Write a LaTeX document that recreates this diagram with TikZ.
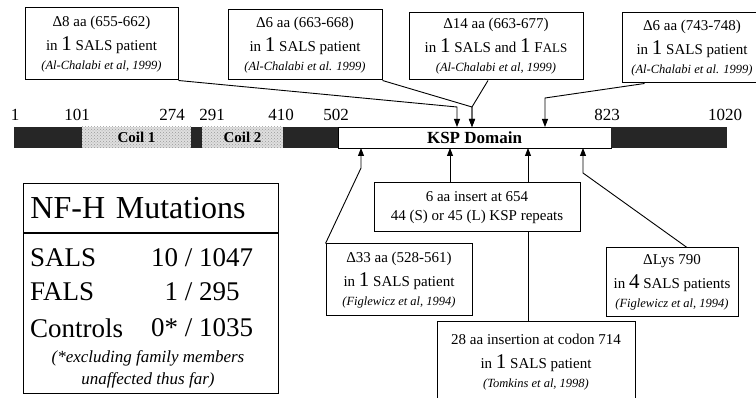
\documentclass[tikz,border=0pt]{standalone}
\usepackage{fontspec}
\setmainfont{Liberation Serif}
\usepackage{tikz}
\usetikzlibrary{positioning,arrows.meta,patterns,backgrounds}
\newcommand{\bignum}[1]{{\fontsize{21}{18}\selectfont #1}}
\newcommand{\reffont}{\fontsize{12.5}{15}\selectfont\itshape}
\tikzset{
  box/.style={draw, line width=1pt, fill=white, align=center, inner sep=2pt,
              font=\fontsize{15}{19}\selectfont},
  seg/.style={inner sep=0pt, outer sep=0pt, minimum height=21, anchor=west},
  darkseg/.style={seg, fill=black!85},
  coilseg/.style={seg, preaction={fill=gray!25}, pattern=crosshatch dots,
                  pattern color=gray!80, font=\bfseries\fontsize{15}{15}\selectfont},
  kspseg/.style={seg, draw, line width=0.8pt, fill=white,
                 font=\bfseries\fontsize{17}{17}\selectfont},
  numlbl/.style={font=\fontsize{17}{17}\selectfont, inner sep=0pt},
  tallybox/.style={draw, line width=1pt, minimum width=255, anchor=north west},
  countlbl/.style={font=\fontsize{27}{27}\selectfont, inner sep=0pt},
  arrow/.style={-{Triangle[length=8pt,width=6pt]}, line width=0.9pt},
}

\begin{document}
\begin{tikzpicture}[x=1pt, y=-1pt]
  \useasboundingbox (0,0) rectangle (756,398);

  % NF-H protein bar
  \node[darkseg, minimum width=68]                  (head)  at (14,137.5) {};
  \node[coilseg, minimum width=109, right=0pt of head]  (coil1) {Coil 1};
  \node[darkseg, minimum width=11, right=0pt of coil1]  (link)  {};
  \node[coilseg, minimum width=81, right=0pt of link]   (coil2) {Coil 2};
  \node[darkseg, minimum width=55, right=0pt of coil2]  (rod)   {};
  \node[kspseg, minimum width=273, right=0pt of rod]    (ksp)   {KSP Domain};
  \node[darkseg, minimum width=116, right=0pt of ksp]   (tail)  {};

  % residue numbers
  \node[numlbl] (n1)    at (15,115)  {1};
  \node[numlbl] (n101)  at (77,115)  {101};
  \node[numlbl] (n274)  at (172,115) {274};
  \node[numlbl] (n291)  at (212,115) {291};
  \node[numlbl] (n410)  at (281,115) {410};
  \node[numlbl] (n502)  at (336,115) {502};
  \node[numlbl] (n823)  at (607,115) {823};
  \node[numlbl] (n1020) at (725,115) {1020};

  % mutation sites
  \coordinate (p655) at ([xshift=119pt]ksp.north west);
  \coordinate (p663) at ([xshift=134pt]ksp.north west);
  \coordinate (p743) at ([xshift=207pt]ksp.north west);
  \coordinate (p528) at ([xshift=23pt]ksp.south west);
  \coordinate (p654) at ([xshift=112pt]ksp.south west);
  \coordinate (p714) at ([xshift=190pt]ksp.south west);
  \coordinate (p790) at ([xshift=245pt]ksp.south west);
  \coordinate (j655) at ([yshift=20pt]p655);
  \coordinate (j663) at ([yshift=20pt]p663);
  \coordinate (j743) at ([yshift=29pt]p743);
  \coordinate (j528) at ([yshift=-20pt]p528);
  \coordinate (j790) at ([yshift=-25pt]p790);

  % deletions above
  \node[box, minimum width=153, minimum height=72] (d8)  at (101.5,44)
    {Δ8 aa (655-662)\\[5pt]in \bignum{1} SALS patient\\{\reffont (Al-Chalabi et al, 1999)}};
  \node[box, minimum width=154, minimum height=70] (d6a) at (305,45)
    {Δ6 aa (663-668)\\[5pt]in \bignum{1} SALS patient\\{\reffont (Al-Chalabi et al. 1999)}};
  \node[box, minimum width=174, minimum height=67] (d14) at (496,46.5)
    {Δ14 aa (663-677)\\[5pt]in \bignum{1} SALS and \bignum{1} F{\fontsize{13}{13}\selectfont ALS}\\{\reffont (Al-Chalabi et al, 1999)}};
  \node[box, minimum width=140, minimum height=70] (d6b) at (692,48)
    {Δ6 aa (743-748)\\[5pt]in \bignum{1} SALS patient\\{\reffont (Al-Chalabi et al. 1999)}};

  \draw[arrow] (d8.south east) -- (j655) -- (p655);
  \draw[arrow] (d6a.south east) -- (j663) -- (p663);
  \draw[arrow] ([xshift=-8pt]d14.south) -- (j663) -- (p663);
  \draw[arrow] ([xshift=23pt]d6b.south west) -- (j743) -- (p743);

  % mutations below
  \node[box, minimum width=206, minimum height=49] (ins6)  at (477,207.5)
    {6 aa insert at 654\\44 (S) or 45 (L) KSP repeats};
  \node[box, minimum width=146, minimum height=72] (d33)   at (399,280)
    {Δ33 aa (528-561)\\[5pt]in \bignum{1} SALS patient\\{\reffont (Figlewicz et al, 1994)}};
  \node[box, minimum width=132, minimum height=69] (dlys)  at (672,282.5)
    {ΔLys 790\\[5pt]in \bignum{4} SALS patients\\{\reffont (Figlewicz et al, 1994)}};
  \node[box, minimum width=198, minimum height=80] (ins28) at (536,362)
    {28 aa insertion at codon 714\\[5pt]in \bignum{1} SALS patient\\{\reffont (Tomkins et al, 1998)}};

  \draw[arrow] (d33.north west) -- (j528) -- (p528);
  \draw[arrow] (ins6.north -| p654) -- (p654);
  \begin{scope}[on background layer]
    \draw[arrow] (ins28.north -| p714) -- (p714);
  \end{scope}
  \draw[arrow] ([xshift=15pt]dlys.north) -- (j790) -- (p790);

  % summary table
  \node[tallybox, minimum height=49, text width=241, align=left,
        font=\fontsize{32}{32}\selectfont] (nfhtitle) at (23,183) {NF-H Mutations};
  \node[tallybox, minimum height=160, below=0pt of nfhtitle] (nfhbody) {};
  \node[countlbl, anchor=west] (lsals) at (30,258) {SALS};
  \node[countlbl]              (vsals) at (202,258) {10 / 1047};
  \node[countlbl, anchor=west] (lfals) at (30,292) {FALS};
  \node[countlbl]              (vfals) at (202,292) {1 / 295};
  \node[countlbl, anchor=west] (lctrl) at (30,328) {Controls};
  \node[countlbl]              (vctrl) at (202,328) {0* / 1035};
  \node[align=center, font=\fontsize{17}{22}\selectfont\itshape] (fnote) at (148,369)
    {(*excluding family members\\unaffected thus far)};
\end{tikzpicture}
\end{document}
